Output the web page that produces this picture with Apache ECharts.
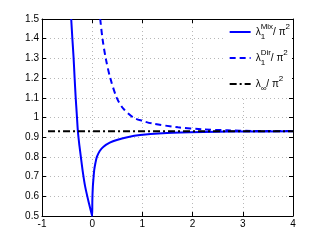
<!DOCTYPE html>
<html>
<head>
<meta charset="utf-8">
<script src="https://cdn.jsdelivr.net/npm/echarts@6/dist/echarts.min.js"></script>
<style>html,body{margin:0;padding:0;background:#fff}#c{width:324px;height:244px}</style>
</head>
<body>
<div id="c"></div>
<script>
// Mixed-boundary eigenvalue curve λ1^Mix/π²
const mixX = [-0.418, -0.395, -0.372, -0.35, -0.33, -0.308, -0.285, -0.256, -0.226, -0.185, -0.14, -0.07, -0.006, 0,
              0.003, 0.013, 0.025, 0.04, 0.065, 0.093, 0.15, 0.225, 0.35, 0.49, 0.7, 0.956, 1.4, 1.95, 2.5, 3, 4];
const mixY = [1.5, 1.40, 1.309, 1.2, 1.106, 1.02, 0.93, 0.86, 0.80, 0.72, 0.649, 0.57, 0.505, 0.5,
              0.58, 0.649, 0.69, 0.733, 0.77, 0.80, 0.83, 0.852, 0.872, 0.886, 0.90, 0.911, 0.92, 0.925, 0.928, 0.929, 0.93];
// Dirichlet eigenvalue curve λ1^Dir/π²
const dirX = [0.16, 0.205, 0.27, 0.36, 0.49, 0.62, 0.82, 1.0, 1.19, 1.71, 2.2, 2.7, 3.2, 4];
const dirY = [1.5, 1.4, 1.3, 1.2, 1.1, 1.045, 1.0, 0.983, 0.97, 0.95, 0.94, 0.935, 0.932, 0.931];
// Limit λ∞/π²
const infX = [-0.88, 4];
const infY = [0.93, 0.93];
// Axis ticks
const xTicks = [-1, 0, 1, 2, 3, 4];
const yTickMin = 0.5, yTickMax = 1.5, yTickStep = 0.1;

const pairs = (xs, ys) => xs.map((x, i) => [x, ys[i]]);
const FONT = 'Liberation Sans';
const rich = {
  l: {fontSize: 10, fontFamily: FONT, color: '#000', verticalAlign: 'middle', lineHeight: 18},
  sb: {fontSize: 8, fontFamily: FONT, color: '#000', verticalAlign: 'bottom', lineHeight: 18, width: 0},
  sbw: {fontSize: 8, fontFamily: FONT, color: '#000', verticalAlign: 'bottom', lineHeight: 18},
  sp: {fontSize: 8, fontFamily: FONT, color: '#000', verticalAlign: 'top', lineHeight: 18},
  t: {fontSize: 10, fontFamily: FONT, color: '#000', verticalAlign: 'middle', lineHeight: 18}
};
const legendText = {
  mix: '{l|λ}{sb|1}{sp|Mix}{t|/ π}{sp|2}',
  dir: '{l|λ}{sb|1}{sp|Dir}{t|/ π}{sp|2}',
  inf: '{l|λ}{sbw|∞}{t|/ π}{sp|2}'
};

const chart = echarts.init(document.getElementById('c'), null, {renderer: 'canvas'});
const axisLine = {show: true, onZero: false, lineStyle: {color: '#000', width: 1}};
const tick = {show: true, inside: true, length: 4, lineStyle: {color: '#000'}};
chart.setOption({
  animation: false,
  backgroundColor: '#fff',
  grid: {left: 42, right: 31, top: 19, bottom: 28, containLabel: false},
  legend: {
    orient: 'vertical', right: 32, top: 20, itemWidth: 21, itemHeight: 10, itemGap: 8,
    backgroundColor: '#fff', padding: [3, 2, 4, 4],
    data: ['mix', 'dir', 'inf'],
    itemStyle: {opacity: 0},
    formatter: n => legendText[n],
    textStyle: {rich: rich, fontFamily: FONT, fontSize: 10}
  },
  xAxis: [{
    type: 'value', min: xTicks[0], max: xTicks[xTicks.length - 1], interval: 1,
    axisLine: axisLine, axisTick: tick,
    axisLabel: {fontFamily: FONT, fontSize: 10, color: '#000', margin: 3},
    splitLine: {show: true, lineStyle: {color: '#b8b8b8', type: [1, 3], width: 1}}
  }, {
    type: 'value', position: 'top', min: xTicks[0], max: xTicks[xTicks.length - 1], interval: 1,
    axisLine: axisLine, axisTick: tick, axisLabel: {show: false}, splitLine: {show: false}
  }],
  yAxis: [{
    type: 'value', min: yTickMin, max: yTickMax, interval: yTickStep,
    axisLine: axisLine, axisTick: tick,
    axisLabel: {fontFamily: FONT, fontSize: 10, color: '#000', margin: 3,
      formatter: v => String(Math.round(v * 10) / 10)},
    splitLine: {show: true, lineStyle: {color: '#b8b8b8', type: [1, 3], width: 1}}
  }, {
    type: 'value', position: 'right', min: yTickMin, max: yTickMax, interval: yTickStep,
    axisLine: axisLine, axisTick: tick, axisLabel: {show: false}, splitLine: {show: false}
  }],
  series: [{
    name: 'mix', type: 'line', data: pairs(mixX, mixY), showSymbol: false, symbol: 'none',
    smooth: 0.25, clip: true,
    lineStyle: {color: '#0000ff', width: 2}, itemStyle: {color: '#0000ff'}
  }, {
    name: 'dir', type: 'line', data: pairs(dirX, dirY), showSymbol: false, symbol: 'none',
    smooth: 0.3, clip: true,
    lineStyle: {color: '#0000ff', width: 2, type: [6, 4]}, itemStyle: {color: '#0000ff'}
  }, {
    name: 'inf', type: 'line', data: pairs(infX, infY), showSymbol: false, symbol: 'none',
    lineStyle: {color: '#000', width: 2, type: [7, 3, 2, 3]}, itemStyle: {color: '#000'}
  }]
});
</script>
</body>
</html>
